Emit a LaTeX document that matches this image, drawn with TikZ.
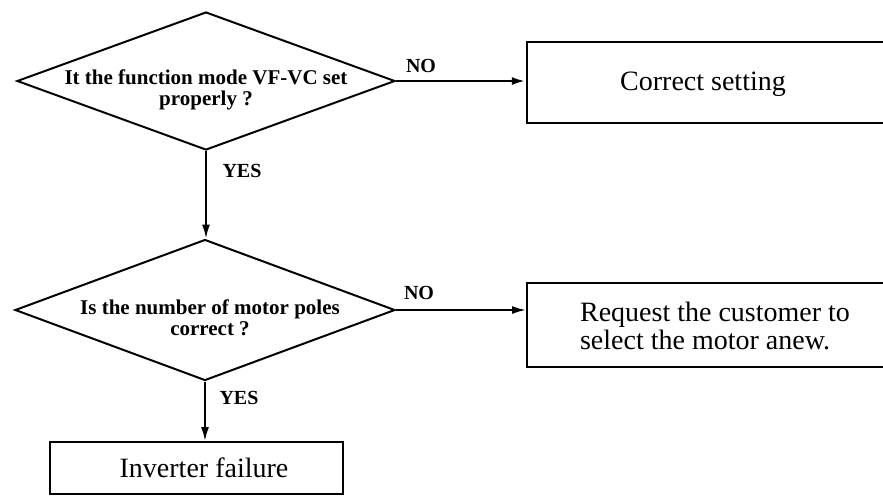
\documentclass[tikz,border=0pt]{standalone}
\usepackage{fontspec}
\setmainfont{Liberation Serif}
\usetikzlibrary{shapes.geometric,arrows.meta}
\begin{document}
\begin{tikzpicture}[x=0.5pt,y=-0.5pt,
  decision/.style={diamond,draw,line width=1pt,inner sep=0pt,minimum width=#1},
  qtext/.style={align=center,font=\fontsize{10.5}{10.5}\selectfont\bfseries,inner sep=0pt},
  actbox/.style={draw,line width=1.2pt,rectangle,inner sep=0pt,
    font=\fontsize{14}{14}\selectfont,align=left},
  flow/.style={line width=1pt,-{Latex[length=7pt,width=4pt]}},
  answer/.style={font=\fontsize{10}{10}\selectfont\bfseries,inner sep=0pt}]
\useasboundingbox (0,0) rectangle (883,495);
\clip (0,0) rectangle (883,495);

% decisions
\node (d1) [decision=189pt,minimum height=69pt] at (206,81) {};
\node (q1) [qtext] at (206,90) {It the function mode VF-VC set\\properly ?};
\node (d2) [decision=190pt,minimum height=70.5pt] at (205,310) {};
\node (q2) [qtext] at (210,318) {Is the number of motor poles\\correct ?};

% actions
\node (b1) [actbox,minimum width=181.5pt,minimum height=40.5pt] at (708.5,82.5) {};
\node (t1) [font=\fontsize{14}{14}\selectfont,inner sep=0pt] at (703,84) {Correct setting};
\node (b2) [actbox,line width=1pt,minimum width=181.5pt,minimum height=42pt] at (708.5,325) {};
\node (t2) [font=\fontsize{14}{14}\selectfont,align=left,inner sep=0pt] at (715,326)
  {Request the customer to\\select the motor anew.};
\node (b3) [actbox,line width=1pt,minimum width=146.5pt,minimum height=26pt] at (196.5,468) {};
\node (t3) [font=\fontsize{14}{14}\selectfont,inner sep=0pt] at (204,468) {Inverter failure};

% connectors
\draw[flow,line width=1.3pt] (d1.east) -- (d1.east -| b1.west);
\draw[flow] (d1.south) -- (d1.south |- d2.north);
\draw[flow] (d2.east) -- (d2.east -| b2.west);
\draw[flow] (d2.south) -- (d2.south |- b3.north);

% answer labels
\node (n1) [answer] at (421,66) {NO};
\node (y1) [answer] at (242,171) {YES};
\node (n2) [answer] at (419,293) {NO};
\node (y2) [answer] at (239,398) {YES};
\end{tikzpicture}
\end{document}
